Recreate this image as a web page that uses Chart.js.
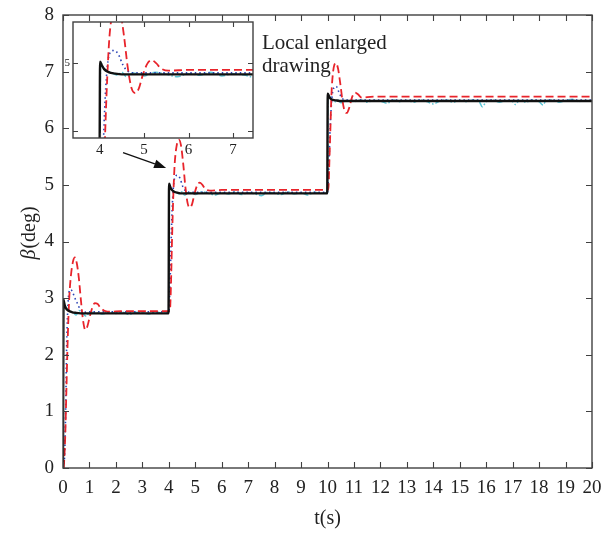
<!DOCTYPE html>
<html>
<head>
<meta charset="utf-8">
<script src="https://cdn.jsdelivr.net/npm/chart.js@4"></script>
<style>
html,body{margin:0;padding:0;background:#fff;}
#wrap{position:relative;width:602px;height:535px;}
#main{position:absolute;left:0;top:0;}
#inset{position:absolute;left:40px;top:10px;}
</style>
</head>
<body>
<div id="wrap">
<canvas id="main" width="602" height="535"></canvas>
<canvas id="inset" width="225" height="155"></canvas>
</div>
<script>
// ---------------- data ----------------
const xTicksMain = [0,1,2,3,4,5,6,7,8,9,10,11,12,13,14,15,16,17,18,19,20];
const yTicksMain = [0,1,2,3,4,5,6,7,8];
const xTicksInset = [4,5,6,7];
const yTicksInset = [4.1,5];

// black solid
const blackT = [0,0.02,0.05,0.1,0.2,0.35,0.5,0.8,3.99,4.01,4.05,4.1,4.2,4.35,4.5,4.8,9.99,10.01,10.05,10.1,10.2,10.35,10.5,10.8,20];
const blackV = [0,2.97,2.9,2.83,2.78,2.75,2.74,2.73,2.73,5.02,4.97,4.92,4.88,4.86,4.85,4.85,4.85,6.61,6.57,6.53,6.5,6.49,6.48,6.48,6.48];

// red dashed
const redT = [0.03,0.08,0.13,0.18,0.23,0.3,0.38,0.45,0.52,0.6,0.68,0.76,0.84,0.92,1.0,1.1,1.2,1.3,1.42,1.6,1.8,2.2,3.0,4.04,
  4.08,4.12,4.17,4.22,4.3,4.38,4.46,4.55,4.63,4.72,4.8,4.88,4.97,5.07,5.17,5.27,5.38,5.55,6.0,8.0,10.03,
  10.07,10.11,10.15,10.2,10.26,10.32,10.4,10.48,10.57,10.65,10.73,10.82,10.93,11.04,11.15,11.3,11.5,12,20];
const redV = [0,0.5,1.4,2.3,2.95,3.4,3.65,3.72,3.62,3.35,2.95,2.6,2.44,2.5,2.65,2.82,2.91,2.9,2.83,2.77,2.76,2.77,2.77,2.77,
  3.2,4.0,4.8,5.35,5.7,5.8,5.7,5.35,4.95,4.66,4.6,4.66,4.84,4.99,5.04,5.0,4.93,4.9,4.91,4.91,4.91,
  5.4,6.0,6.6,6.95,7.12,7.15,7.05,6.8,6.48,6.3,6.27,6.36,6.55,6.63,6.6,6.54,6.55,6.56,6.56];

// blue dotted
const blueT = [0,0.06,0.1,0.14,0.19,0.27,0.35,0.45,0.55,0.65,0.8,1.0,4.0,4.05,4.1,4.15,4.22,4.32,4.42,4.52,4.62,4.8,10.0,10.05,10.1,10.17,10.25,10.33,10.42,10.55,10.7,20];
const blueV = [0,0.2,1.0,2.2,2.9,3.15,3.12,3.0,2.9,2.8,2.75,2.76,2.76,3.3,4.2,4.8,5.12,5.17,5.12,4.98,4.9,4.87,4.87,5.3,6.0,6.55,6.72,6.74,6.65,6.53,6.5,6.5];

// cyan dash-dot
const cyanT = [0,0.02,0.1,0.2,0.3,0.4,0.5,0.6,0.75,0.9,1.0,1.25,1.5,1.75,2.0,2.25,2.5,2.75,3.0,3.25,3.5,3.75,3.98,
  4.0,4.02,4.1,4.2,4.3,4.4,4.5,4.6,4.75,4.9,5.0,5.25,5.5,5.75,6.0,6.25,6.5,6.75,7.0,7.25,7.5,7.75,8.0,8.25,8.5,8.75,9.0,9.25,9.5,9.75,9.98,
  10.0,10.02,10.1,10.2,10.3,10.4,10.5,10.75,11.0,11.25,11.5,11.75,12.0,12.25,12.5,12.75,13.0,13.25,13.5,13.75,14.0,14.25,14.5,14.75,15.0,15.25,15.5,15.75,15.85,16.0,16.25,16.5,16.75,17.0,17.1,17.25,17.5,17.75,18.0,18.15,18.25,18.5,18.75,19.0,19.25,19.5,19.75,20];
const cyanV = [0,2.95,2.85,2.8,2.76,2.74,2.7,2.78,2.72,2.68,2.76,2.74,2.72,2.76,2.73,2.75,2.71,2.75,2.74,2.72,2.76,2.73,2.74,
  2.74,5.0,4.93,4.89,4.86,4.84,4.88,4.82,4.87,4.85,4.83,4.88,4.85,4.82,4.86,4.84,4.88,4.83,4.86,4.84,4.81,4.87,4.85,4.83,4.88,4.84,4.86,4.82,4.87,4.85,4.85,
  4.85,6.6,6.55,6.5,6.47,6.5,6.45,6.49,6.47,6.5,6.46,6.49,6.48,6.44,6.5,6.47,6.49,6.46,6.5,6.47,6.43,6.48,6.5,6.46,6.49,6.47,6.5,6.46,6.38,6.47,6.5,6.46,6.49,6.47,6.42,6.49,6.46,6.5,6.47,6.41,6.48,6.5,6.46,6.49,6.51,6.47,6.49,6.48];

// ---------------- helpers ----------------
const pts = (ts, vs) => ts.map((t, i) => ({x: t, y: vs[i]}));
const SERIF = '"Liberation Serif", "DejaVu Serif", serif';
const AXIS = '#404040';
const TEXT = '#222';

function makeDatasets() {
  return [
    {data: pts(blackT, blackV), borderColor: '#111', borderWidth: 2.4, pointRadius: 0, cubicInterpolationMode: 'monotone', fill: false},
    {data: pts(redT, redV), borderColor: '#e8242b', borderWidth: 1.8, borderDash: [8, 4], pointRadius: 0, cubicInterpolationMode: 'monotone', fill: false},
    {data: pts(blueT, blueV), borderColor: '#2b44b5', borderWidth: 1.6, borderDash: [1.5, 3], pointRadius: 0, cubicInterpolationMode: 'monotone', fill: false},
    {data: pts(cyanT, cyanV), borderColor: '#5cc6d6', borderWidth: 1.5, borderDash: [6, 2, 1.5, 2], pointRadius: 0, cubicInterpolationMode: 'monotone', fill: false}
  ];
}

function framePlugin(tickLen, fillWhite) {
  return {
    id: 'frame',
    beforeDatasetsDraw(chart) {
      if (!fillWhite) return;
      const a = chart.chartArea, c = chart.ctx;
      c.save(); c.fillStyle = '#fff'; c.fillRect(a.left, a.top, a.right - a.left, a.bottom - a.top); c.restore();
    },
    afterDatasetsDraw(chart) {
      const a = chart.chartArea, c = chart.ctx;
      const xs = chart.scales.x, ys = chart.scales.y;
      c.save();
      c.strokeStyle = AXIS; c.lineWidth = 1.4;
      c.strokeRect(a.left, a.top, a.right - a.left, a.bottom - a.top);
      c.lineWidth = 1.1;
      c.beginPath();
      xs.ticks.forEach(t => {
        const px = Math.round(xs.getPixelForValue(t.value)) + 0.5;
        c.moveTo(px, a.bottom); c.lineTo(px, a.bottom - tickLen);
        c.moveTo(px, a.top); c.lineTo(px, a.top + tickLen);
      });
      ys.ticks.forEach(t => {
        const py = Math.round(ys.getPixelForValue(t.value)) + 0.5;
        c.moveTo(a.left, py); c.lineTo(a.left + tickLen, py);
        c.moveTo(a.right, py); c.lineTo(a.right - tickLen, py);
      });
      c.stroke();
      c.restore();
    }
  };
}

const annotPlugin = {
  id: 'annot',
  afterDraw(chart) {
    const c = chart.ctx, xs = chart.scales.x, ys = chart.scales.y;
    c.save();
    // y title: italic beta + (deg)
    const cx = 30, cy = (ys.top + ys.bottom) / 2 - 8;
    c.translate(cx, cy); c.rotate(-Math.PI / 2);
    c.fillStyle = TEXT; c.textBaseline = 'middle';
    c.font = 'italic 20px ' + SERIF;
    const wb = c.measureText('β').width;
    c.font = '20px ' + SERIF;
    const wd = c.measureText('(deg)').width;
    const start = -(wb + wd) / 2;
    c.font = 'italic 20px ' + SERIF; c.textAlign = 'left';
    c.fillText('β', start, 0);
    c.font = '20px ' + SERIF;
    c.fillText('(deg)', start + wb + 1, 0);
    c.restore();

    // text
    c.save();
    c.fillStyle = TEXT; c.font = '21px ' + SERIF; c.textAlign = 'left'; c.textBaseline = 'alphabetic';
    c.fillText('Local enlarged', xs.getPixelForValue(7.52), ys.getPixelForValue(7.4));
    c.fillText('drawing', xs.getPixelForValue(7.52), ys.getPixelForValue(7.0));
    c.restore();

    // arrow
    c.save();
    const x1 = xs.getPixelForValue(2.27), y1 = ys.getPixelForValue(5.57);
    const x2 = xs.getPixelForValue(3.9), y2 = ys.getPixelForValue(5.3);
    c.strokeStyle = '#111'; c.fillStyle = '#111'; c.lineWidth = 1.3;
    const ang = Math.atan2(y2 - y1, x2 - x1);
    const hl = 12, hw = 4.5;
    const bx = x2 - hl * Math.cos(ang), by = y2 - hl * Math.sin(ang);
    c.beginPath(); c.moveTo(x1, y1); c.lineTo(bx, by); c.stroke();
    c.beginPath();
    c.moveTo(x2, y2);
    c.lineTo(bx + hw * Math.sin(ang), by - hw * Math.cos(ang));
    c.lineTo(bx - hw * Math.sin(ang), by + hw * Math.cos(ang));
    c.closePath(); c.fill();
    c.restore();
  }
};

// ---------------- main chart ----------------
new Chart(document.getElementById('main'), {
  type: 'line',
  data: {datasets: makeDatasets()},
  options: {
    responsive: false, animation: false, devicePixelRatio: 1,
    layout: {padding: {left: 0, right: 10, top: 15, bottom: 0}},
    plugins: {legend: {display: false}, tooltip: {enabled: false}},
    scales: {
      x: {
        type: 'linear', min: 0, max: 20,
        afterBuildTicks(s) { s.ticks = xTicksMain.map(v => ({value: v})); },
        ticks: {font: {family: SERIF, size: 19}, color: TEXT, padding: 9, maxRotation: 0, autoSkip: false, callback: v => String(v)},
        grid: {display: false, drawTicks: false}, border: {display: false},
        title: {display: true, text: 't(s)', font: {family: SERIF, size: 20}, color: TEXT, padding: {top: 0, bottom: 4}},
        afterFit(s) { s.height = 67; s.paddingLeft = 0; s.paddingRight = 0; }
      },
      y: {
        type: 'linear', min: 0, max: 8,
        afterBuildTicks(s) { s.ticks = yTicksMain.map(v => ({value: v})); },
        ticks: {font: {family: SERIF, size: 19}, color: TEXT, padding: 9, callback: v => String(v)},
        grid: {display: false, drawTicks: false}, border: {display: false},
        afterFit(s) { s.width = 63; s.paddingTop = 0; s.paddingBottom = 0; }
      }
    }
  },
  plugins: [framePlugin(6, false), annotPlugin]
});

// ---------------- inset chart ----------------
new Chart(document.getElementById('inset'), {
  type: 'line',
  data: {datasets: makeDatasets()},
  options: {
    responsive: false, animation: false, devicePixelRatio: 1,
    layout: {padding: {left: 0, right: 12, top: 12, bottom: 0}},
    plugins: {legend: {display: false}, tooltip: {enabled: false}},
    scales: {
      x: {
        type: 'linear', min: 3.4, max: 7.45,
        afterBuildTicks(s) { s.ticks = xTicksInset.map(v => ({value: v})); },
        ticks: {font: {family: SERIF, size: 15}, color: TEXT, padding: 3, maxRotation: 0, autoSkip: false, callback: v => String(v)},
        grid: {display: false, drawTicks: false}, border: {display: false},
        afterFit(s) { s.height = 27; s.paddingLeft = 0; s.paddingRight = 0; }
      },
      y: {
        type: 'linear', min: 4.0, max: 5.55,
        afterBuildTicks(s) { s.ticks = yTicksInset.map(v => ({value: v})); },
        ticks: {font: {family: SERIF, size: 11}, color: TEXT, padding: 3, callback: v => (v === 5 ? '5' : '')},
        grid: {display: false, drawTicks: false}, border: {display: false},
        afterFit(s) { s.width = 33; s.paddingTop = 0; s.paddingBottom = 0; }
      }
    }
  },
  plugins: [framePlugin(5, true)]
});
</script>
</body>
</html>
